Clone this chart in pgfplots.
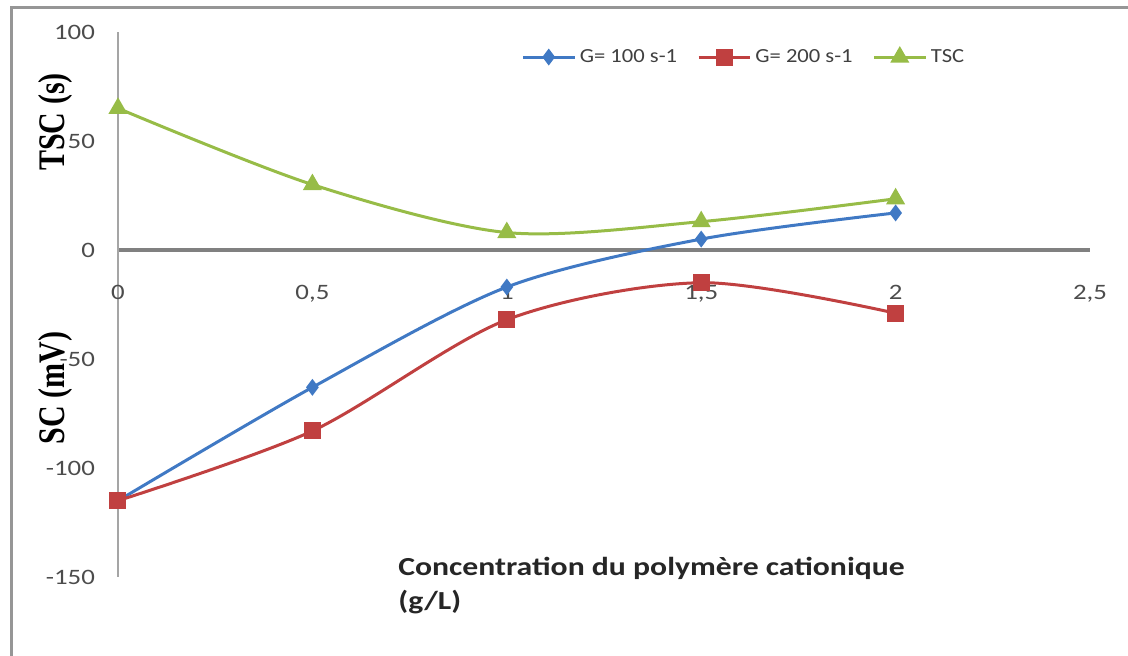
\documentclass[border=0pt]{standalone}
\usepackage{fontspec}
\setmainfont{Carlito}
\newfontfamily\timesf{Liberation Serif}
\usepackage{graphicx}
\usepackage{pgfplots}
\pgfplotsset{compat=1.18}
\definecolor{sblue}{RGB}{64,121,196}
\definecolor{sred}{RGB}{192,64,64}
\definecolor{sgreen}{RGB}{151,188,71}
\newcommand\sx[1]{\scalebox{1.22}[1]{#1}}
\newcommand\lx[1]{\scalebox{1.13}[1]{#1}}
\begin{document}
\begin{tikzpicture}
\begin{axis}[
  at={(0,0)}, anchor=south west,
  scale only axis, width=486pt, height=272.5pt,
  xmin=0, xmax=2.5, ymin=-150, ymax=100,
  axis x line=middle, axis y line=left,
  axis line style={-},
  x axis line style={draw={rgb,255:red,128;green,128;blue,128}, line width=2pt},
  y axis line style={draw={rgb,255:red,165;green,165;blue,165}, line width=0.75pt},
  xtick={0,0.5,1,1.5,2,2.5}, xticklabels={\sx{0},\sx{0,5},\sx{1},\sx{1,5},\sx{2},\sx{2,5}},
  ytick={-150,-100,-50,0,50,100}, yticklabels={\sx{-150},\sx{-100},\sx{-50},\sx{0},\sx{50},\sx{100}},
  major tick length=0pt,
  hide obscured x ticks=false, hide obscured y ticks=false,
  tick label style={font=\fontsize{11}{13}\selectfont, text=black!70},
  xticklabel style={yshift=-14pt},
  yticklabel style={xshift=-8pt},
  clip=false,
  legend style={at={(0.645,0.954)}, anchor=center, draw=none, fill=none,
    font=\fontsize{10}{12}\selectfont, text=black!75,
    /tikz/every even column/.append style={column sep=8pt}},
  legend columns=3,
  legend image code/.code={\draw[mark repeat=2,mark phase=2] plot coordinates {(0cm,0cm) (0.45cm,0cm) (0.9cm,0cm)};},
]
\addplot[sblue, line width=1.5pt, smooth, mark=diamond*, mark size=3pt, mark options={solid}] coordinates {
  (0,-115) (0.5,-63) (1,-17) (1.5,5) (2,17)};
\addlegendentry{\lx{G= 100 s-1}}
\addplot[sred, line width=1.5pt, smooth, mark=square*, mark size=3.5pt] coordinates {
  (0,-115) (0.5,-83) (1,-32) (1.5,-15) (2,-29)};
\addlegendentry{\lx{G= 200 s-1}}
\addplot[sgreen, line width=1.5pt, smooth, mark=triangle*, mark size=4pt] coordinates {
  (0,65) (0.5,30) (1,8) (1.5,13) (2,23.5)};
\addlegendentry{\lx{TSC}}
\node[rotate=90, font=\timesf\bfseries\fontsize{15}{18}\selectfont] at (rel axis cs:-0.0648,0.8349) {\scalebox{1}[1.25]{TSC (s)}};
\node[rotate=90, font=\timesf\bfseries\fontsize{15}{18}\selectfont] at (rel axis cs:-0.0648,0.3468) {\scalebox{1}[1.25]{SC (mV)}};
\node[anchor=north west, align=left, inner sep=0pt, font=\bfseries\fontsize{13}{17}\selectfont, text=black!85] at (rel axis cs:0.288,0.0367) {\sx{Concentration du polymère cationique}\\\sx{(g/L)}};
\coordinate (FBL) at (rel axis cs:-0.10905,-0.14495);
\coordinate (FTL) at (rel axis cs:-0.10905,1.04404);
\coordinate (FTR) at (rel axis cs:1.03909,1.04404);
\coordinate (BB1) at (rel axis cs:-0.12140,-0.14495);
\coordinate (BB2) at (rel axis cs:1.03909,1.05872);
\end{axis}
\draw[draw={rgb,255:red,150;green,150;blue,150}, line width=1.5pt] (FBL) -- (FTL) -- (FTR);
\pgfresetboundingbox
\path[use as bounding box] (BB1) rectangle (BB2);
\end{tikzpicture}
\end{document}
